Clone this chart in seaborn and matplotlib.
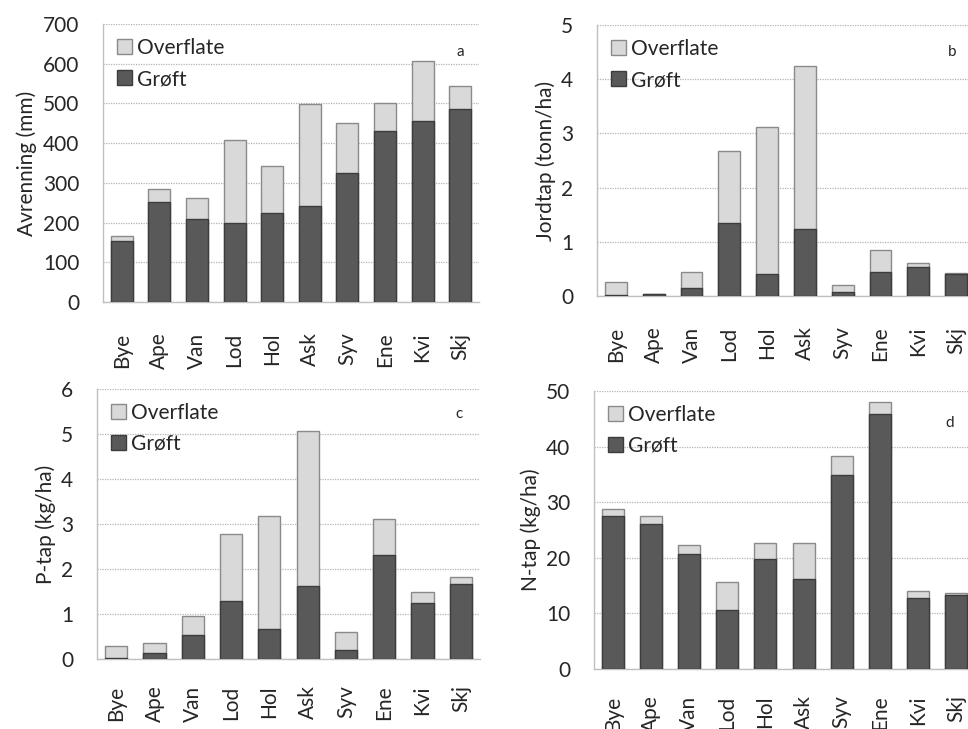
import matplotlib
matplotlib.use("Agg")
import matplotlib.pyplot as plt
import seaborn as sns
import pandas as pd
import numpy as np
from matplotlib.patches import Patch

sites = ["Bye", "Ape", "Van", "Lod", "Hol", "Ask", "Syv", "Ene", "Kvi", "Skj"]

# Totals (Grøft + Overflate) and Grøft part, per panel
avr_total = [167, 285, 261, 408, 342, 499, 450, 501, 607, 543]
avr_groft = [154, 252, 208, 199, 225, 242, 326, 431, 457, 487]

jord_total = [0.25, 0.035, 0.44, 2.67, 3.11, 4.24, 0.20, 0.84, 0.60, 0.43]
jord_groft = [0.02, 0.03, 0.14, 1.34, 0.41, 1.24, 0.07, 0.44, 0.54, 0.40]

p_total = [0.30, 0.36, 0.95, 2.77, 3.18, 5.06, 0.59, 3.12, 1.49, 1.83]
p_groft = [0.03, 0.13, 0.53, 1.29, 0.67, 1.62, 0.20, 2.31, 1.24, 1.66]

n_total = [28.8, 27.5, 22.3, 15.6, 22.6, 22.6, 38.3, 48.1, 14.1, 13.7]
n_groft = [27.6, 26.1, 20.7, 10.7, 19.8, 16.2, 34.9, 45.8, 12.8, 13.3]

ylabels = ["Avrenning (mm)", "Jordtap (tonn/ha)", "P-tap (kg/ha)", "N-tap (kg/ha)"]
letters = ["a", "b", "c", "d"]
ymax = [700, 5, 6, 50]
ystep = [100, 1, 1, 10]

sns.set_theme(style="white")
plt.rcParams["font.family"] = ["Lato", "DejaVu Sans"]

W, H = 968, 729
fig = plt.figure(figsize=(W / 100, H / 100), dpi=100)

# (left, right, top, bottom) in pixels
boxes = [(103, 479, 24, 302), (597, 975, 25, 296), (97, 480, 389, 659), (594, 975, 391, 669)]
letter_pos = [(460, 52), (952, 52), (459, 414), (950, 423)]
xpads = [22, 22, 19, 19]

LIGHT = "#d9d9d9"
DARK = "#595959"
TXT = "#262626"
FS = 15

datasets = [(avr_total, avr_groft), (jord_total, jord_groft), (p_total, p_groft), (n_total, n_groft)]

for i, ((tot, gr), (l, r, t, b)) in enumerate(zip(datasets, boxes)):
    ax = fig.add_axes([l / W, 1 - b / H, (r - l) / W, (b - t) / H])
    df = pd.DataFrame({"site": sites, "total": tot, "groft": gr})
    sns.barplot(data=df, x="site", y="total", color=LIGHT, saturation=1,
                edgecolor="#8a8a8a", linewidth=1.0, width=0.58, ax=ax, zorder=3)
    sns.barplot(data=df, x="site", y="groft", color=DARK, saturation=1,
                edgecolor="#3c3c3c", linewidth=1.0, width=0.58, ax=ax, zorder=4)
    ax.set_xlim(-0.5, 9.5)
    ax.set_ylim(0, ymax[i])
    ax.set_yticks(np.arange(0, ymax[i] + ystep[i] / 2, ystep[i]))
    ax.yaxis.grid(True, color="#b5b5b5", linestyle=(0, (1, 1)), linewidth=0.9, zorder=0)
    ax.xaxis.grid(False)
    ax.set_axisbelow(True)
    for s in ["top", "right"]:
        ax.spines[s].set_visible(False)
    for s in ["left", "bottom"]:
        ax.spines[s].set_color("#c0c0c0")
        ax.spines[s].set_linewidth(1.0)
    ax.tick_params(axis="x", length=0, pad=xpads[i], labelsize=FS, rotation=90, colors=TXT)
    ax.tick_params(axis="y", length=0, pad=17, labelsize=FS, colors=TXT)
    ax.set_xlabel("")
    ax.set_ylabel(ylabels[i], fontsize=FS, color=TXT, labelpad=4)
    handles = [Patch(facecolor=LIGHT, edgecolor="#8a8a8a", label="Overflate"),
               Patch(facecolor=DARK, edgecolor="#3c3c3c", label="Grøft")]
    leg = ax.legend(handles=handles, loc="upper left", frameon=False, fontsize=FS,
                    handlelength=0.75, handleheight=0.75, handletextpad=0.25,
                    labelspacing=0.55, borderaxespad=0.25, bbox_to_anchor=(0.0, 1.0))
    for txt in leg.get_texts():
        txt.set_color(TXT)
    lx, ly = letter_pos[i]
    fig.text(lx / W, 1 - ly / H, letters[i], fontsize=11, color=TXT,
             ha="center", va="center")

fig.savefig("out.png", dpi=100, facecolor="white")
